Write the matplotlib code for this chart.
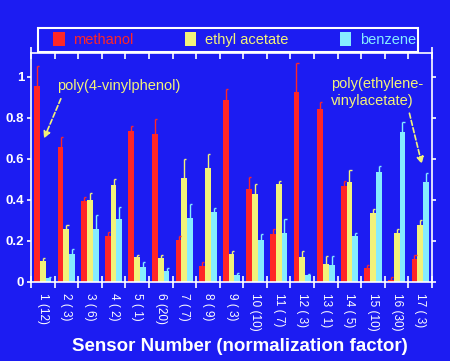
import numpy as np
import matplotlib
matplotlib.use("Agg")
import matplotlib.pyplot as plt
from matplotlib.patches import Rectangle

# values
sensors = ['1 (12)', '2 ( 3)', '3 ( 6)', '4 ( 2)', '5 ( 1)', '6 (20)', '7 ( 7)', '8 ( 9)', '9 ( 3)',
           '10 (10)', '11 ( 7)', '12 ( 3)', '13 ( 1)', '14 ( 5)', '15 (10)', '16 (30)', '17 ( 3)']
methanol = [0.955, 0.66, 0.395, 0.223, 0.735, 0.723, 0.207, 0.08, 0.887, 0.456, 0.232, 0.928, 0.845,
            0.468, 0.068, 0.01, 0.11]
methanol_err = [0.10, 0.046, 0.02, 0.022, 0.026, 0.074, 0.015, 0.016, 0.053, 0.055, 0.026, 0.139, 0.034,
                0.024, 0.013, 0.012, 0.022]
ethyl = [0.10, 0.258, 0.40, 0.471, 0.121, 0.116, 0.506, 0.555, 0.135, 0.43, 0.479, 0.121, 0.087,
         0.49, 0.337, 0.24, 0.28]
ethyl_err = [0.016, 0.021, 0.035, 0.032, 0.011, 0.016, 0.094, 0.071, 0.014, 0.046, 0.013, 0.029, 0.042,
             0.055, 0.021, 0.02, 0.022]
benzene = [0.02, 0.135, 0.258, 0.306, 0.073, 0.055, 0.314, 0.341, 0.032, 0.205, 0.239, 0.032, 0.081,
           0.223, 0.537, 0.73, 0.49]
benzene_err = [0.004, 0.026, 0.068, 0.062, 0.024, 0.013, 0.068, 0.021, 0.012, 0.027, 0.067, 0.007, 0.045,
               0.016, 0.027, 0.048, 0.04]

bg = '#1c1cf2'
red = '#ff2626'
yellow = '#f2f27a'
cyan = '#86ecff'

fig = plt.figure(figsize=(4.5, 3.61), dpi=100, facecolor=bg)
ax = fig.add_axes([31 / 450, 1 - 282 / 361, 401 / 450, 229 / 361], facecolor=bg)

x = np.arange(len(sensors))
w = 0.245
series = [(methanol, methanol_err, red, 'methanol'),
          (ethyl, ethyl_err, yellow, 'ethyl acetate'),
          (benzene, benzene_err, cyan, 'benzene')]
for k, (vals, errs, col, lab) in enumerate(series):
    xs = x + (k - 1) * w
    vals = np.array(vals)
    errs = np.array(errs)
    ax.bar(xs, vals, width=w, color=col, edgecolor='none', label=lab, zorder=2)
    ax.vlines(xs, vals, vals + errs, color=col, lw=1.0, zorder=3)
    ax.hlines(vals + errs, xs, xs + 0.09, color=col, lw=1.0, zorder=3)

ax.set_xlim(-0.5, len(sensors) - 0.5)
ax.set_ylim(0, 1.117)

for s in ax.spines.values():
    s.set_color('white')
    s.set_linewidth(1.2)

ax.set_yticks([0, 0.2, 0.4, 0.6, 0.8, 1.0])
ax.set_yticklabels(['0', '0.2', '0.4', '0.6', '0.8', '1'])
ax.tick_params(axis='y', colors='white', direction='out', length=3, width=1.2, labelsize=9.5,
               right=True, pad=2)
for t in ax.get_yticklabels():
    t.set_fontfamily('Liberation Sans')
    t.set_fontweight('bold')

# group boundaries as major ticks, labels at centres as minor ticks
ax.set_xticks(np.arange(len(sensors) + 1) - 0.5)
ax.set_xticklabels([])
ax.tick_params(axis='x', which='major', colors='white', direction='inout', length=8, width=1.2,
               top=True)
ax.set_xticks(x, minor=True)
ax.set_xticklabels(sensors, minor=True, rotation=270, fontsize=8.5, color='white',
                   fontfamily='Liberation Sans')
ax.tick_params(axis='x', which='minor', length=0, pad=8)

ax.set_xlabel('Sensor Number (normalization factor)', color='white', fontsize=13.5,
              fontweight='bold', fontfamily='Liberation Sans')
ax.xaxis.set_label_coords((240 - 31) / 401, -0.245)

arrow = dict(arrowstyle='-|>', color=yellow, lw=1.2, linestyle=(0, (3, 1.5)),
             shrinkA=2, shrinkB=0, mutation_scale=10)
ax.annotate('poly(4-vinylphenol)', xy=(0.05, 0.70), xytext=(0.6, 0.92), color=yellow,
            fontsize=10.5, fontfamily='Liberation Sans', ha='left', va='bottom',
            arrowprops=dict(arrow, relpos=(0.05, 0)))
ax.annotate('poly(ethylene-\nvinylacetate)', xy=(16.07, 0.575), xytext=(12.2, 0.85),
            color=yellow, fontsize=10.5, fontfamily='Liberation Sans', ha='left', va='bottom',
            linespacing=1.25,
            arrowprops=dict(arrow, relpos=(0.84, 0)))

# legend box: white frame drawn separately, entries spread inside it
fig.patches.append(Rectangle((38 / 450, 1 - 52 / 361), 380 / 450, 24 / 361, transform=fig.transFigure,
                             facecolor=bg, edgecolor='white', lw=1.5, zorder=1))
leg = fig.legend(loc='lower left', bbox_to_anchor=(50 / 450, 1 - 50 / 361, 369 / 450, 20 / 361),
                 mode='expand', ncol=3, frameon=False,
                 handlelength=0.8, handleheight=1.1, handletextpad=0.6, borderaxespad=0,
                 prop={'family': 'Liberation Sans', 'size': 10.5}, borderpad=0.2)
for t, col in zip(leg.get_texts(), [red, yellow, cyan]):
    t.set_color(col)

fig.savefig('out.png', dpi=100, facecolor=bg)
